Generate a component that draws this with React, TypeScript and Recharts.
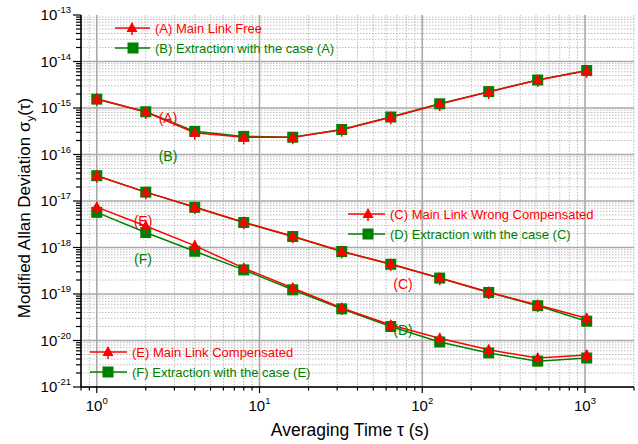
import React from "react";
import { LineChart, Line, XAxis, YAxis, CartesianGrid } from "recharts";

const tau = [1, 2, 4, 8, 16, 32, 64, 128, 256, 512, 1024];
const seriesA = [1.58e-15, 8.2e-16, 2.95e-16, 2.35e-16, 2.35e-16, 3.4e-16, 6.3e-16, 1.22e-15, 2.2e-15, 4.0e-15, 6.3e-15];
const seriesB = [1.55e-15, 8.3e-16, 3.15e-16, 2.45e-16, 2.35e-16, 3.45e-16, 6.4e-16, 1.23e-15, 2.25e-15, 4.0e-15, 6.4e-15];
const seriesC = [3.5e-17, 1.55e-17, 7.4e-18, 3.5e-18, 1.75e-18, 8.3e-19, 4.4e-19, 2.2e-19, 1.1e-19, 5.8e-20, 3.0e-20];
const seriesD = [3.5e-17, 1.55e-17, 7.3e-18, 3.45e-18, 1.72e-18, 8.2e-19, 4.35e-19, 2.2e-19, 1.08e-19, 5.6e-20, 2.6e-20];
const seriesE = [7.4e-18, 2.9e-18, 1.1e-18, 3.6e-19, 1.35e-19, 5.0e-20, 2.15e-20, 1.12e-20, 6.3e-21, 4.2e-21, 4.9e-21];
const seriesF = [5.7e-18, 2.1e-18, 8.3e-19, 3.3e-19, 1.23e-19, 4.8e-20, 2.0e-20, 9.3e-21, 5.4e-21, 3.6e-21, 4.2e-21];

const xMajorTicks = [1, 10, 100, 1000];
const xMinorTicks = [0.8, 0.9, 2, 3, 4, 5, 6, 7, 8, 9, 20, 30, 40, 50, 60, 70, 80, 90, 200, 300, 400, 500, 600, 700, 800, 900, 2000];
const yMajorTicks = [1e-21, 1e-20, 1e-19, 1e-18, 1e-17, 1e-16, 1e-15, 1e-14, 1e-13];
const minorMultipliers = [2, 3, 4, 5, 6, 7, 8, 9];
const yMinorTicks = yMajorTicks.slice(0, -1).flatMap((d) => minorMultipliers.map((m) => m * d));
const yGridMajor = yMajorTicks.slice(0, -1);

const legendTop = ["(A) Main Link Free", "(B) Extraction with the case (A)"];
const legendMid = ["(C) Main Link Wrong Compensated", "(D) Extraction with the case (C)"];
const legendBot = ["(E) Main Link Compensated", "(F) Extraction with the case (E)"];
const xTitle = "Averaging Time τ (s)";

const data = tau.map((t, i) => ({
  t,
  a: seriesA[i],
  b: seriesB[i],
  c: seriesC[i],
  d: seriesD[i],
  e: seriesE[i],
  f: seriesF[i],
}));

const RED = "#ff0000";
const GREEN = "#008000";
const FONT = "'Liberation Sans', Arial, sans-serif";

const Tri = ({ cx, cy }: { cx: number; cy: number }) => (
  <g>
    <line x1={cx} x2={cx} y1={cy - 5} y2={cy + 7} stroke={RED} strokeWidth={1.5} />
    <polygon points={`${cx},${cy - 6} ${cx - 5.5},${cy + 4} ${cx + 5.5},${cy + 4}`} fill={RED} />
  </g>
);
const Sq = ({ cx, cy }: { cx: number; cy: number }) => (
  <rect x={cx - 5.5} y={cy - 5.5} width={11} height={11} fill={GREEN} />
);

const triDot = (p: any) => (p.cx == null ? <g key={p.index} /> : <g key={p.index}><Tri cx={p.cx} cy={p.cy} /></g>);
const sqDot = (p: any) => (p.cx == null ? <g key={p.index} /> : <g key={p.index}><Sq cx={p.cx} cy={p.cy} /></g>);

const isMajor = (v: number) => {
  const e = Math.round(Math.log10(v));
  return Math.abs(v / Math.pow(10, e) - 1) < 1e-6;
};

const XTick = (props: any) => {
  const { x, y, payload } = props;
  const v = payload.value;
  const major = isMajor(v);
  const e = Math.round(Math.log10(v));
  return (
    <g>
      <line x1={x} x2={x} y1={y} y2={y + (major ? 6 : 3.5)} stroke="#000" strokeWidth={1.2} />
      {major && (
        <text x={x} y={y + 24} textAnchor="middle" fontSize={15} fontFamily={FONT} fill="#000">
          <tspan>10</tspan>
          <tspan dy={-7} fontSize={9.5}>{String(e)}</tspan>
        </text>
      )}
    </g>
  );
};

const YTick = (props: any) => {
  const { x, y, payload } = props;
  const v = payload.value;
  const major = isMajor(v);
  const e = Math.round(Math.log10(v));
  return (
    <g>
      <line x1={x - (major ? 8 : 5)} x2={x} y1={y} y2={y} stroke="#000" strokeWidth={1.2} />
      {major && (
        <text x={x - 10} y={y + 5} textAnchor="end" fontSize={15} fontFamily={FONT} fill="#000">
          <tspan>10</tspan>
          <tspan dy={-7} fontSize={9.5}>{String(e)}</tspan>
        </text>
      )}
    </g>
  );
};

const LegendRow = ({ x1, x2, mx, y, label, color, kind }: any) => (
  <g>
    <line x1={x1} x2={x2} y1={y} y2={y} stroke={color} strokeWidth={1.5} />
    {kind === "tri" ? <Tri cx={mx} cy={y} /> : <Sq cx={mx} cy={y} />}
    <text x={x2 + 5} y={y + 5} fontSize={13} fontFamily={FONT} fill={color}>{label}</text>
  </g>
);

export default function App() {
  return (
    <div style={{ position: "absolute", left: 0, top: 0, width: 638, height: 444, background: "#fff" }}>
      <LineChart width={638} height={444} data={data} margin={{ top: 15, right: 4, left: 0, bottom: 0 }}>
        <CartesianGrid
          horizontalValues={yMinorTicks}
          verticalValues={xMinorTicks}
          stroke="#bdbdbd"
          strokeDasharray="1.5 1.5"
          strokeWidth={1}
        />
        <CartesianGrid
          horizontalValues={yGridMajor}
          verticalValues={xMajorTicks}
          stroke="#a9a9a9"
          strokeWidth={1.6}
        />
        <XAxis
          dataKey="t"
          type="number"
          scale="log"
          domain={[0.8, 2000]}
          ticks={[...xMinorTicks, ...xMajorTicks].sort((p, q) => p - q)}
          interval={0}
          tickSize={0}
          tickMargin={0}
          tick={<XTick />}
          height={57}
          axisLine={{ stroke: "#000", strokeWidth: 1.6 }}
          allowDataOverflow
        />
        <YAxis
          type="number"
          scale="log"
          domain={[1e-21, 1e-13]}
          ticks={[...yMinorTicks, ...yMajorTicks].sort((p, q) => p - q)}
          interval={0}
          tickSize={0}
          tickMargin={0}
          tick={<YTick />}
          width={81}
          axisLine={{ stroke: "#000", strokeWidth: 1.6 }}
          allowDataOverflow
        />
        <Line dataKey="b" stroke={GREEN} strokeWidth={1.5} dot={sqDot} activeDot={false} isAnimationActive={false} />
        <Line dataKey="a" stroke={RED} strokeWidth={1.5} dot={triDot} activeDot={false} isAnimationActive={false} />
        <Line dataKey="d" stroke={GREEN} strokeWidth={1.5} dot={sqDot} activeDot={false} isAnimationActive={false} />
        <Line dataKey="c" stroke={RED} strokeWidth={1.5} dot={triDot} activeDot={false} isAnimationActive={false} />
        <Line dataKey="f" stroke={GREEN} strokeWidth={1.5} dot={sqDot} activeDot={false} isAnimationActive={false} />
        <Line dataKey="e" stroke={RED} strokeWidth={1.5} dot={triDot} activeDot={false} isAnimationActive={false} />
      </LineChart>
      <svg
        width={638}
        height={444}
        style={{ position: "absolute", left: 0, top: 0, pointerEvents: "none" }}
      >
        <LegendRow x1={115} x2={150} mx={132} y={28} label={legendTop[0]} color={RED} kind="tri" />
        <LegendRow x1={115} x2={150} mx={133} y={48} label={legendTop[1]} color={GREEN} kind="sq" />
        <LegendRow x1={348} x2={385} mx={368} y={214} label={legendMid[0]} color={RED} kind="tri" />
        <LegendRow x1={348} x2={385} mx={368} y={234} label={legendMid[1]} color={GREEN} kind="sq" />
        <LegendRow x1={90} x2={127} mx={108} y={352} label={legendBot[0]} color={RED} kind="tri" />
        <LegendRow x1={90} x2={127} mx={108} y={372} label={legendBot[1]} color={GREEN} kind="sq" />

        <g fontFamily={FONT} fontSize={14} textAnchor="middle">
          <text x={168} y={123} fill={RED}>(A)</text>
          <text x={168} y={161} fill={GREEN}>(B)</text>
          <text x={403} y={289} fill={RED}>(C)</text>
          <text x={403} y={335} fill={GREEN}>(D)</text>
          <text x={143} y={226} fill={RED}>(E)</text>
          <text x={143} y={264} fill={GREEN}>(F)</text>
        </g>

        <text x={350} y={436} textAnchor="middle" fontSize={17.5} fontFamily={FONT} fill="#000">{xTitle}</text>
        <text
          x={30}
          y={208}
          textAnchor="middle"
          fontSize={17}
          fontFamily={FONT}
          fill="#000"
          transform="rotate(-90, 30, 208)"
        >
          <tspan>Modified Allan Deviation σ</tspan>
          <tspan dy={4} fontSize={11.5}>y</tspan>
          <tspan dy={-4}>(τ)</tspan>
        </text>
      </svg>
    </div>
  );
}
